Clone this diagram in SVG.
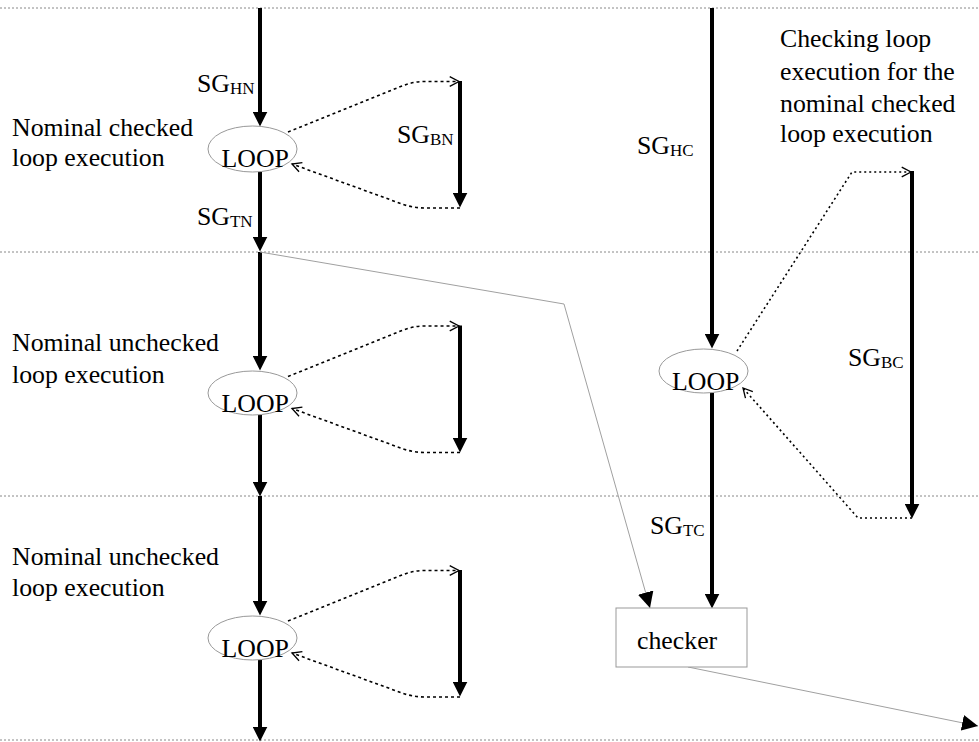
<svg xmlns="http://www.w3.org/2000/svg" width="979" height="742" viewBox="0 0 979 742">
<style>
  text { font-family: "Liberation Serif", "Times New Roman", serif; font-size: 25.8px; fill: #000; }
  .sub { font-size: 17px; }
  .sep { stroke: #888; stroke-width: 1; stroke-dasharray: 2 2; fill: none; }
  .thick { stroke: #000; stroke-width: 4; fill: none; marker-end: url(#big); }
  .thin { stroke: #a0a0a0; stroke-width: 1; fill: none; marker-end: url(#thinArrow); }
  .dash { stroke: #000; stroke-width: 1.6; stroke-dasharray: 3 3; fill: none; marker-end: url(#open); }
  .dot { stroke: #000; stroke-width: 1.6; stroke-dasharray: 2 3; fill: none; marker-end: url(#open); }
  .loop { stroke: #999; stroke-width: 1; fill: none; }
  .box { stroke: #999; stroke-width: 1; fill: #fff; }
</style>
<defs>
  <marker id="big" markerUnits="userSpaceOnUse" markerWidth="15" markerHeight="15" viewBox="0 0 14 14" refX="6" refY="7" orient="auto">
    <path d="M0,0 L14,7 L0,14 Z" fill="#000"/>
  </marker>
  <marker id="thinArrow" markerUnits="userSpaceOnUse" markerWidth="16" markerHeight="16" viewBox="0 0 15 15" refX="15" refY="7.5" orient="auto">
    <path d="M0,0 L15,7.5 L0,15 Z" fill="#000"/>
  </marker>
  <marker id="open" markerUnits="userSpaceOnUse" markerWidth="12" markerHeight="12" viewBox="0 0 11 11" refX="9.5" refY="5.5" orient="auto">
    <path d="M1,1 L9.5,5.5 L1,10" fill="none" stroke="#000" stroke-width="1.2"/>
  </marker>
</defs>

<g id="separators">
  <line class="sep" x1="0" y1="8" x2="979" y2="8"/>
  <line class="sep" x1="0" y1="252" x2="979" y2="252"/>
  <line class="sep" x1="0" y1="496" x2="979" y2="496"/>
  <line class="sep" x1="0" y1="740" x2="979" y2="740"/>
</g>

<g id="connectors">
  <!-- left main flow -->
  <line class="thick" x1="260" y1="8" x2="260" y2="118"/>
  <line class="thick" x1="260" y1="172" x2="260" y2="243"/>
  <line class="thick" x1="260" y1="252" x2="260" y2="362"/>
  <line class="thick" x1="260" y1="415" x2="260" y2="488"/>
  <line class="thick" x1="260" y1="496" x2="260" y2="607"/>
  <line class="thick" x1="260" y1="660" x2="260" y2="733"/>
  <!-- loop 1 body -->
  <path class="dash" d="M288,132 L402,86 Q413,81.5 425,81.5 L459,81.5"/>
  <line class="thick" x1="460" y1="81" x2="460" y2="199"/>
  <path class="dash" d="M460,208 L425,208 Q413,208 402,204 L292,164"/>
  <!-- loop 2 body -->
  <path class="dash" d="M288,376.5 L402,330.5 Q413,326 425,326 L459,326"/>
  <line class="thick" x1="460" y1="325.5" x2="460" y2="444"/>
  <path class="dash" d="M460,452.5 L425,452.5 Q413,452.5 402,448.5 L292,408.5"/>
  <!-- loop 3 body -->
  <path class="dash" d="M288,621 L402,575 Q413,570.5 425,570.5 L459,570.5"/>
  <line class="thick" x1="460" y1="570" x2="460" y2="688"/>
  <path class="dash" d="M460,697 L425,697 Q413,697 402,693 L292,653"/>
  <!-- right flow -->
  <line class="thick" x1="712" y1="8" x2="712" y2="340"/>
  <line class="thick" x1="712" y1="393" x2="712" y2="600"/>
  <path class="dot" d="M737,351 L852,172 L911,172"/>
  <line class="thick" x1="912" y1="171" x2="912" y2="510"/>
  <path class="dot" d="M912,518 L858,518 L743,388"/>
  <!-- thin links -->
  <polyline class="thin" points="260,252 564,304 650,608"/>
  <line class="thin" x1="688" y1="667" x2="978" y2="726"/>
</g>

<g id="loop1">
  <ellipse class="loop" cx="252.5" cy="149" rx="44.5" ry="23"/>
  <text x="221.5" y="167">LOOP</text>
</g>
<g id="loop2">
  <ellipse class="loop" cx="252.5" cy="393" rx="44.5" ry="22"/>
  <text x="221.5" y="412">LOOP</text>
</g>
<g id="loop3">
  <ellipse class="loop" cx="252.5" cy="638" rx="44.5" ry="22"/>
  <text x="221.5" y="657">LOOP</text>
</g>
<g id="loopC">
  <ellipse class="loop" cx="703.5" cy="371" rx="44.5" ry="22"/>
  <text x="672" y="390">LOOP</text>
</g>
<g id="checker">
  <rect class="box" x="616" y="608" width="131" height="59"/>
  <text x="637" y="649">checker</text>
</g>

<g id="labels">
  <text x="197" y="92">SG<tspan class="sub" dy="2">HN</tspan></text>
  <text x="197" y="225">SG<tspan class="sub" dy="2">TN</tspan></text>
  <text x="397" y="143">SG<tspan class="sub" dy="2">BN</tspan></text>
  <text x="637" y="154">SG<tspan class="sub" dy="2">HC</tspan></text>
  <text x="848" y="366">SG<tspan class="sub" dy="2">BC</tspan></text>
  <text x="650" y="534">SG<tspan class="sub" dy="2">TC</tspan></text>
  <text x="12" y="136">Nominal checked</text>
  <text x="12" y="166">loop execution</text>
  <text x="12" y="351">Nominal unchecked</text>
  <text x="12" y="383">loop execution</text>
  <text x="12" y="565">Nominal unchecked</text>
  <text x="12" y="596">loop execution</text>
  <text x="780" y="47">Checking loop</text>
  <text x="780" y="80">execution for the</text>
  <text x="780" y="112">nominal checked</text>
  <text x="780" y="142">loop execution</text>
</g>
</svg>
